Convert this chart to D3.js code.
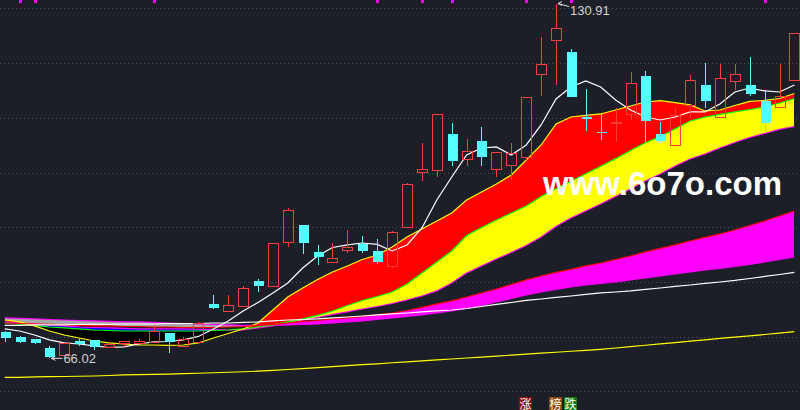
<!DOCTYPE html>
<html>
<head>
<meta charset="utf-8">
<style>
  body { margin:0; background:#1d1f28; }
  svg { display:block; }
  .grid { stroke:#4c4f59; stroke-width:1; stroke-dasharray:1,3; }
  .price-tag { fill:#d2d2d2; font-family:"Liberation Sans", Arial, sans-serif; font-size:13px; }
  .watermark { fill:#ffffff; font-family:"Liberation Sans", Arial, sans-serif; font-weight:bold; font-size:33px; }
  .tag { fill:#ffffff; font-family:"Noto Sans CJK SC", sans-serif; font-size:12px; }
</style>
<script src="https://d3js.org/d3.v7.min.js"></script>
</head>
<body>
<div class="chart"></div>
<script>
// daily candles
const opens  = [70.90,69.88,69.51,67.87,66.51,69.20,69.39,68.05,68.65,68.65,68.96,70.61,68.16,68.96,75.97,74.60,75.47,80.17,79.13,87.25,90.41,85.53,83.59,85.71,86.94,85.66,82.79,89.99,99.98,100.34,107.05,102.43,105.77,100.60,101.26,102.79,117.97,124.11,121.99,110.22,107.40,109.08,110.65,117.66,107.05,104.91,112.17,116.01,110.11,116.69,116.01,113.09,111.93,116.74];
const highs  = [71.00,70.12,69.60,68.29,68.80,69.51,69.45,69.02,69.05,69.51,72.13,70.70,69.99,72.62,77.61,77.61,79.26,80.54,87.10,93.52,90.45,86.76,87.07,89.50,88.40,87.80,89.32,98.00,105.35,110.70,109.01,106.08,108.28,103.80,105.35,113.80,124.73,130.91,122.54,115.23,110.89,111.81,118.44,118.57,109.30,111.75,117.84,120.09,119.85,119.85,121.08,115.10,119.85,125.40];
const lows   = [69.07,68.84,68.65,66.02,66.45,68.29,67.56,68.00,68.16,68.60,68.90,67.06,68.10,68.90,75.00,74.55,75.40,78.22,79.10,86.45,85.11,83.10,83.55,85.24,85.35,83.23,82.50,89.90,98.51,99.24,101.26,101.26,101.26,99.13,98.64,102.17,114.06,116.01,113.80,107.66,105.96,105.64,109.61,105.64,105.35,104.85,109.92,111.75,110.05,115.10,114.06,107.18,111.90,116.70];
const closes = [69.81,69.07,68.89,66.33,68.78,68.60,68.16,68.47,69.02,69.07,70.90,69.07,69.39,72.31,75.29,75.73,78.84,79.31,87.07,92.97,87.18,84.62,84.32,86.21,85.71,83.70,89.08,97.85,100.60,110.65,102.17,103.82,102.90,103.71,103.40,113.76,119.80,126.38,113.87,109.79,107.32,109.15,116.32,109.48,105.72,110.34,116.74,113.14,117.24,117.84,114.37,109.12,113.87,125.34];

// indicator lines
const ma5    = [71.40,71.03,70.30,69.39,68.84,68.65,68.29,68.01,68.11,68.65,69.02,69.11,69.39,70.03,71.40,72.86,74.69,76.24,77.98,79.81,82.55,84.74,86.30,86.76,87.12,86.85,85.66,86.76,89.86,94.98,99.19,103.21,104.49,104.68,103.21,105.04,108.70,113.45,115.65,116.74,115.65,113.27,111.44,110.16,109.61,110.16,111.08,111.08,112.54,114.73,115.46,114.92,114.73,116.01];
const ribbonA = [73.04,72.68,71.95,71.03,70.30,69.75,69.20,68.84,68.65,68.47,68.47,68.38,68.47,68.84,69.75,70.57,71.40,72.49,74.87,77.25,78.89,80.45,81.82,82.92,84.10,84.93,86.39,88.22,89.68,91.14,92.61,94.98,96.45,97.91,99.56,102.30,105.04,108.88,110.16,110.44,110.71,111.44,112.17,112.90,113.14,112.78,112.36,111.26,111.44,112.26,113.00,113.18,113.54,114.46];
const ribbonB = [72.49,72.31,72.04,71.76,71.58,71.40,71.21,71.12,71.03,71.03,71.03,71.03,71.03,71.03,71.12,71.21,71.40,71.76,72.13,72.68,73.23,73.87,74.69,75.69,76.61,77.34,78.16,79.63,81.64,83.65,85.66,88.49,89.96,91.33,92.61,93.89,95.62,97.05,98.42,99.79,101.16,102.54,104.04,105.44,106.56,108.00,109.43,110.12,110.62,111.08,111.53,111.99,112.72,113.51];
const ribbonC = [72.68,72.49,72.31,72.13,71.95,71.76,71.67,71.58,71.49,71.40,71.40,71.40,71.40,71.31,71.31,71.21,71.21,71.58,71.95,72.49,72.95,73.50,74.05,74.51,75.05,75.51,76.06,76.70,77.43,78.35,79.81,81.64,82.92,84.20,85.38,86.66,88.22,90.14,91.69,92.97,94.25,95.62,97.00,98.46,99.74,101.20,102.48,103.40,104.49,105.50,106.41,107.14,107.88,108.42];
const ribbonD = [72.49,72.40,72.31,72.22,72.13,72.04,71.95,71.95,71.85,71.85,71.76,71.76,71.67,71.67,71.67,71.76,71.85,72.04,72.22,72.49,72.77,72.95,73.23,73.41,73.68,73.96,74.32,74.78,75.33,75.97,76.52,77.25,77.98,78.71,79.53,80.36,81.09,81.73,82.28,82.92,83.46,84.10,84.74,85.48,86.12,86.76,87.49,88.13,88.77,89.50,90.32,91.14,92.06,92.97];
const ribbonE = [73.41,73.32,73.23,73.13,73.04,72.95,72.86,72.77,72.68,72.68,72.59,72.49,72.40,72.31,72.22,72.13,72.04,72.04,72.04,72.13,72.22,72.31,72.49,72.68,72.86,73.13,73.41,73.68,73.96,74.32,74.69,75.14,75.69,76.33,76.97,77.61,78.16,78.62,79.08,79.44,79.72,79.99,80.36,80.72,81.09,81.45,81.82,82.18,82.46,82.82,83.19,83.65,84.10,84.56];
const maSlow = [72.04,72.04,72.13,72.13,72.13,72.22,72.22,72.22,72.31,72.31,72.31,72.40,72.40,72.40,72.49,72.49,72.59,72.68,72.86,73.04,73.13,73.23,73.41,73.59,73.77,73.96,74.14,74.32,74.51,74.69,74.87,75.14,75.51,75.88,76.24,76.61,76.88,77.16,77.43,77.71,77.98,78.16,78.35,78.62,78.89,79.17,79.44,79.72,79.99,80.27,80.63,81.00,81.36,81.73];
const maLong = [62.53,62.56,62.62,62.67,62.71,62.75,62.80,62.89,62.99,63.04,63.09,63.15,63.22,63.30,63.39,63.48,63.57,63.68,63.81,63.99,64.16,64.34,64.52,64.69,64.87,65.03,65.22,65.38,65.56,65.75,65.91,66.09,66.26,66.44,66.61,66.79,66.97,67.14,67.32,67.50,67.68,67.92,68.18,68.42,68.67,68.91,69.17,69.40,69.66,69.90,70.15,70.39,70.65,70.90];

// signal marks along the top edge (candle index)
const signalDays = [1,2,10,25,28,30,35,38,51];
const gridPrices = [130,120,110,100,90,80,70,60];
const footerTags = [
  {text:'涨', x:519, fill:'#8c0a0a'},
  {text:'榜', x:549, fill:'#8a4a0c'},
  {text:'跌', x:564, fill:'#0e7d0e'}
];

const width = 800;
const height = 410;
const idx = d3.range(closes.length);

const svg = d3.select('.chart')
  .append('svg')
  .attr('width', width)
  .attr('height', height)
  .style('background', '#1d1f28');

const x = d3.scalePoint()
  .domain(idx)
  .range([4.7, 794.4]);

const y = d3.scaleLinear()
  .domain([56.58, 131.55])
  .range([height, 0]);

// dotted grid
svg.append('g')
  .selectAll('line')
  .data(gridPrices)
  .join('line')
    .attr('class', 'grid')
    .attr('x1', 0)
    .attr('x2', width)
    .attr('y1', d => Math.round(y(d)) + 0.5)
    .attr('y2', d => Math.round(y(d)) + 0.5);

// fill between two lines, one colour where upper > lower and another where not
function drawBand(upper, lower, upColour, downColour){
  const g = svg.append('g').attr('shape-rendering', 'crispEdges');
  g.append('path')
    .datum(idx)
    .attr('fill', upColour)
    .attr('d', d3.area()
      .x(i => x(i))
      .y0(i => y(lower[i]))
      .y1(i => y(Math.max(upper[i], lower[i]))));
  g.append('path')
    .datum(idx)
    .attr('fill', downColour)
    .attr('d', d3.area()
      .x(i => x(i))
      .y0(i => y(lower[i]))
      .y1(i => y(Math.min(upper[i], lower[i]))));
}

function drawLine(values, colour){
  svg.append('path')
    .datum(idx)
    .attr('fill', 'none')
    .attr('stroke', colour)
    .attr('stroke-width', 1.2)
    .attr('d', d3.line().x(i => x(i)).y(i => y(values[i])));
}

drawBand(ribbonD, ribbonE, '#ff00ff', '#a8a8a8');
drawBand(ribbonA, ribbonB, '#ff0000', '#000000');
drawBand(ribbonB, ribbonC, '#ffff00', '#0000ff');

drawLine(ribbonE, '#ff00ff');
drawLine(ribbonC, '#ff00ff');
drawLine(ribbonB, '#00ff00');
drawLine(ribbonA, '#ffff00');
drawLine(ribbonD, '#ff0000');
drawLine(maSlow, '#ffffff');
drawLine(maLong, '#ffff00');
drawLine(ma5, '#ffffff');

// candles: up days hollow red, down days solid cyan
const candle = svg.append('g')
  .attr('shape-rendering', 'crispEdges')
  .selectAll('g')
  .data(idx)
  .join('g')
  .attr('transform', i => `translate(${Math.round(x(i))},0)`);

candle.append('line')
  .attr('x1', 0.5).attr('x2', 0.5)
  .attr('y1', i => y(highs[i]))
  .attr('y2', i => closes[i] >= opens[i] ? y(closes[i]) : y(lows[i]))
  .attr('stroke', i => closes[i] >= opens[i] ? '#ff3c3c' : '#54ffff');

candle.filter(i => closes[i] >= opens[i])
  .append('line')
  .attr('x1', 0.5).attr('x2', 0.5)
  .attr('y1', i => y(opens[i]))
  .attr('y2', i => y(lows[i]))
  .attr('stroke', '#ff3c3c');

candle.append('rect')
  .attr('x', -4.5)
  .attr('width', 10)
  .attr('y', i => y(Math.max(opens[i], closes[i])))
  .attr('height', i => Math.max(1, y(Math.min(opens[i], closes[i])) - y(Math.max(opens[i], closes[i]))))
  .attr('fill', i => closes[i] >= opens[i] ? 'none' : '#54ffff')
  .attr('stroke', i => closes[i] >= opens[i] ? '#ff3c3c' : 'none');

// highest / lowest price tags
const hi = d3.maxIndex(highs);
const lo = d3.minIndex(lows);
[
  {i:hi, v:highs[hi], dy:3, ty:11},
  {i:lo, v:lows[lo], dy:0, ty:5}
].forEach(t => {
  const px = x(t.i) + 1;
  const py = y(t.v);
  svg.append('path')
    .attr('d', `M${px+5},${py-2} L${px+1},${py} L${px+5},${py+2} M${px+1},${py} L${px+12},${py+t.dy}`)
    .attr('stroke', '#e0e0e0')
    .attr('fill', 'none');
  svg.append('text')
    .attr('class', 'price-tag')
    .attr('x', px + 13)
    .attr('y', py + t.ty)
    .text(t.v.toFixed(2));
});

// magenta signal ticks on the top edge
svg.append('g')
  .selectAll('rect')
  .data(signalDays)
  .join('rect')
    .attr('x', d => Math.round(x(d)) - 1)
    .attr('y', 0)
    .attr('width', 3)
    .attr('height', 3)
    .attr('fill', '#ff00ff');

svg.append('text')
  .attr('class', 'watermark')
  .attr('x', 543)
  .attr('y', 195)
  .text('www.6o7o.com');

const tags = svg.append('g')
  .selectAll('g')
  .data(footerTags)
  .join('g')
  .attr('transform', d => `translate(${d.x},397)`);
tags.append('rect')
  .attr('width', 13)
  .attr('height', 14)
  .attr('fill', d => d.fill);
tags.append('text')
  .attr('class', 'tag')
  .attr('x', 0.5)
  .attr('y', 11.5)
  .text(d => d.text);
</script>
</body>
</html>
